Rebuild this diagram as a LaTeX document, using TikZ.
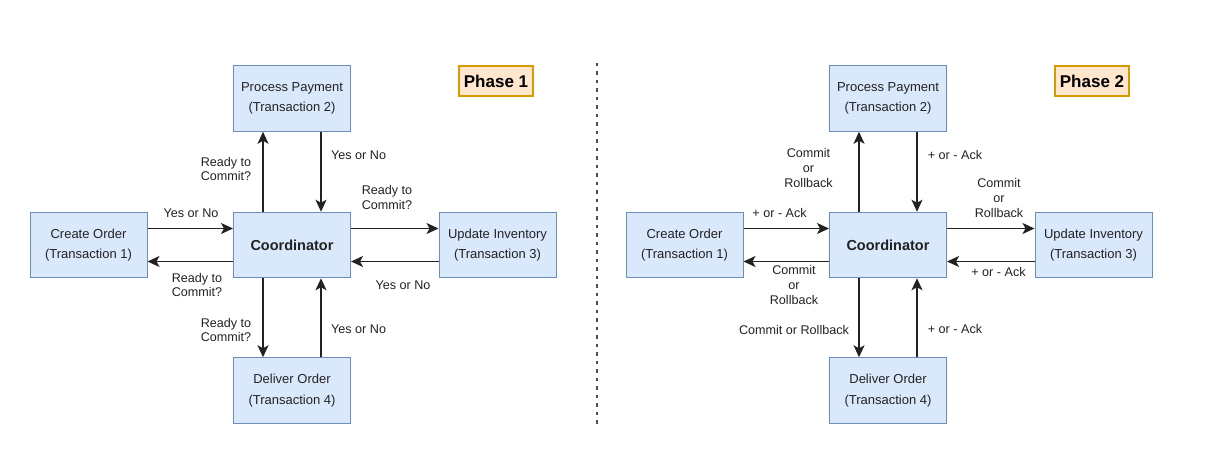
\documentclass[tikz,border=0pt]{standalone}
\usepackage{fontspec}
\setmainfont{Liberation Sans}
\usetikzlibrary{arrows.meta}

\definecolor{boxfill}{HTML}{DAE8FC}
\definecolor{boxline}{HTML}{6C8EBF}
\definecolor{tagfill}{HTML}{FFE6CC}
\definecolor{tagline}{HTML}{D79B00}
\definecolor{ink}{HTML}{222222}

\tikzset{
  txbox/.style={draw=boxline, fill=boxfill, line width=1pt, minimum width=117pt,
    minimum height=65.5pt, align=center, text=ink,
    font=\fontsize{13}{20.7}\selectfont},
  tagbox/.style={draw=tagline, fill=tagfill, line width=1.2pt, minimum width=74pt,
    minimum height=30pt, font=\fontsize{17}{20}\selectfont\bfseries},
  msg/.style={align=center, inner sep=0pt, text=ink,
    font=\fontsize{12.6}{14.6}\selectfont},
  flow/.style={draw=ink, line width=1.4pt,
    -{Stealth[length=12pt,width=11pt,inset=3pt]}}
}

\begin{document}
\begin{tikzpicture}[x=1pt,y=-1pt]
  % Fixes the canvas to the reference size
  \useasboundingbox (0,0) rectangle (1220,449);

  % Both phases share the same layout, phase 2 is shifted right
  \foreach \ph/\dx in {1/0,2/596} {
    \node[txbox, font=\fontsize{14.5}{17}\selectfont\bfseries] (co\ph) at (292+\dx,245) {Coordinator};
    \node[txbox] (pay\ph) at (292+\dx,98.5) {Process Payment\\(Transaction 2)};
    \node[txbox] (ord\ph) at (88.5+\dx,245) {Create Order\\(Transaction 1)};
    \node[txbox] (inv\ph) at (497.5+\dx,245) {Update Inventory\\(Transaction 3)};
    \node[txbox] (del\ph) at (292+\dx,390.5) {Deliver Order\\(Transaction 4)};
    \node[tagbox] (tag\ph) at (496+\dx,81) {Phase \ph};

    % messages between coordinator and participants
    \draw[flow] ([xshift=-29pt]co\ph.north) -- ([xshift=-29pt]pay\ph.south);
    \draw[flow] ([xshift=29pt]pay\ph.south) -- ([xshift=29pt]co\ph.north);
    \draw[flow] ([yshift=16.5pt]ord\ph.east) -- ([yshift=16.5pt]co\ph.west);
    \draw[flow] ([yshift=-16.5pt]co\ph.west) -- ([yshift=-16.5pt]ord\ph.east);
    \draw[flow] ([yshift=16.5pt]co\ph.east) -- ([yshift=16.5pt]inv\ph.west);
    \draw[flow] ([yshift=-16.5pt]inv\ph.west) -- ([yshift=-16.5pt]co\ph.east);
    \draw[flow] ([xshift=-29pt]co\ph.south) -- ([xshift=-29pt]del\ph.north);
    \draw[flow] ([xshift=29pt]del\ph.north) -- ([xshift=29pt]co\ph.south);
  }

  % separator
  \coordinate (septop) at (597,63);
  \coordinate (sepbot) at (597,427);
  \draw[ink!80, line width=1.2pt, dash pattern=on 3.5pt off 5pt] (septop) -- (sepbot);

  % phase 1 labels
  \node[msg] (l1a) at (226,169) {Ready to\\Commit?};
  \node[msg] (l1b) at (358.6,155) {Yes or No};
  \node[msg] (l1c) at (387,197.5) {Ready to\\Commit?};
  \node[msg] (l1d) at (191,213) {Yes or No};
  \node[msg] (l1e) at (197,285) {Ready to\\Commit?};
  \node[msg] (l1f) at (403,285.5) {Yes or No};
  \node[msg] (l1g) at (226,330) {Ready to\\Commit?};
  \node[msg] (l1h) at (358.6,329) {Yes or No};

  % phase 2 labels
  \node[msg] (l2a) at (808.5,168) {Commit\\or\\Rollback};
  \node[msg] (l2b) at (955,155) {+ or - Ack};
  \node[msg] (l2c) at (999,198) {Commit\\or\\Rollback};
  \node[msg] (l2d) at (779.6,213) {+ or - Ack};
  \node[msg] (l2e) at (794,285) {Commit\\or\\Rollback};
  \node[msg] (l2f) at (998.5,271.5) {+ or - Ack};
  \node[msg] (l2g) at (794,329.5) {Commit or Rollback};
  \node[msg] (l2h) at (955,329) {+ or - Ack};
\end{tikzpicture}
\end{document}
